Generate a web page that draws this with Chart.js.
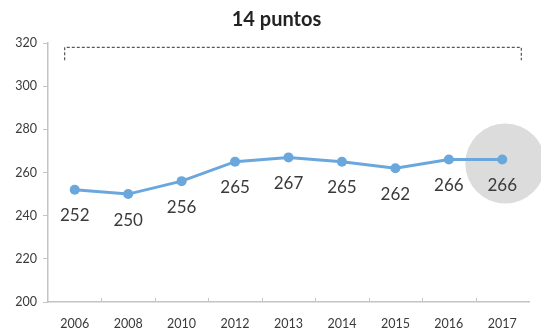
<!DOCTYPE html>
<html lang="es">
  <head>
    <meta charset="UTF-8" />
    <title>14 puntos</title>
    <script src="https://cdn.jsdelivr.net/npm/chart.js@4"></script>
    <style>
      html, body { margin: 0; padding: 0; background: #fff; }
      #wrap { width: 541px; height: 330px; }
    </style>
  </head>
  <body>
    <div id="wrap"><canvas id="chart" width="541" height="330"></canvas></div>
    <script>
      const years = ["2006", "2008", "2010", "2012", "2013", "2014", "2015", "2016", "2017"];
      const scores = [252, 250, 256, 265, 267, 265, 262, 266, 266];
      const yTicks = [200, 220, 240, 260, 280, 300, 320];
      const titleText = "14 puntos";

      const textColor = "#3a3a3a";
      const axisColor = "#c4c4c4";
      const lineColor = "#6aa7dc";
      const fontFamily = "Lato, 'Open Sans', sans-serif";

      // title, circle behind the last point, bracket on top, value labels under points
      const extras = {
        id: "extras",
        beforeDatasetsDraw(chart) {
          const ctx = chart.ctx;
          const area = chart.chartArea;
          const pts = chart.getDatasetMeta(0).data;
          const last = pts[pts.length - 1];
          ctx.save();
          ctx.fillStyle = "#222";
          ctx.font = "bold 20px " + fontFamily;
          ctx.textAlign = "center";
          ctx.textBaseline = "middle";
          ctx.fillText(titleText, (area.left + area.right) / 2 - 12, 20);

          ctx.fillStyle = "#dcdcdc";
          ctx.beginPath();
          ctx.arc(last.x + 3, last.y + 4, 40, 0, Math.PI * 2);
          ctx.fill();

          // small x tick marks pointing up at category borders
          const x = chart.scales.x;
          ctx.strokeStyle = axisColor;
          ctx.lineWidth = 1;
          for (let i = 1; i < years.length; i++) {
            const px = Math.round((x.getPixelForValue(i - 1) + x.getPixelForValue(i)) / 2) + 0.5;
            ctx.beginPath();
            ctx.moveTo(px, area.bottom);
            ctx.lineTo(px, area.bottom - 4);
            ctx.stroke();
          }
          ctx.restore();
        },
        afterDatasetsDraw(chart) {
          const ctx = chart.ctx;
          const x = chart.scales.x;
          const y = chart.scales.y;
          const pts = chart.getDatasetMeta(0).data;

          ctx.save();
          ctx.strokeStyle = "#333";
          ctx.lineWidth = 1;
          ctx.setLineDash([3, 2]);
          const l = x.getPixelForValue(0) - 10;
          const r = x.getPixelForValue(years.length - 1) + 19;
          const t = y.getPixelForValue(318);
          const b = y.getPixelForValue(312);
          ctx.beginPath();
          ctx.moveTo(l, b);
          ctx.lineTo(l, t);
          ctx.lineTo(r, t);
          ctx.lineTo(r, b);
          ctx.stroke();
          ctx.setLineDash([]);

          ctx.fillStyle = textColor;
          ctx.font = "17px " + fontFamily;
          ctx.textAlign = "center";
          ctx.textBaseline = "middle";
          pts.forEach((p, i) => {
            ctx.fillText(String(scores[i]), p.x, p.y + 26);
          });
          ctx.restore();
        },
      };

      new Chart(document.getElementById("chart").getContext("2d"), {
        type: "line",
        data: {
          labels: years,
          datasets: [
            {
              data: scores,
              borderColor: lineColor,
              backgroundColor: lineColor,
              borderWidth: 3,
              pointRadius: 5,
              pointBorderWidth: 0,
              fill: false,
              tension: 0,
            },
          ],
        },
        options: {
          responsive: false,
          animation: false,
          layout: { padding: { left: 0, right: 12, top: 43, bottom: 0 } },
          plugins: {
            legend: { display: false },
            tooltip: { enabled: false },
            title: { display: false },
          },
          scales: {
            x: {
              offset: true,
              grid: {
                offset: true,
                drawOnChartArea: false,
                drawTicks: false,
                color: axisColor,
              },
              border: { color: axisColor, width: 1.5 },
              ticks: {
                color: textColor,
                font: { family: fontFamily, size: 12.5 },
                padding: 14,
                maxRotation: 0,
              },
              afterFit(s) { s.height = 28; },
            },
            y: {
              min: yTicks[0],
              max: yTicks[yTicks.length - 1],
              afterBuildTicks(s) { s.ticks = yTicks.map((v) => ({ value: v })); },
              grid: {
                drawOnChartArea: false,
                drawTicks: true,
                tickLength: 5,
                color: axisColor,
              },
              border: { color: axisColor, width: 1.5 },
              ticks: {
                color: textColor,
                font: { family: fontFamily, size: 12.5 },
                padding: 6,
              },
              afterFit(s) { s.width = 48; },
            },
          },
        },
        plugins: [extras],
      });
    </script>
  </body>
</html>
